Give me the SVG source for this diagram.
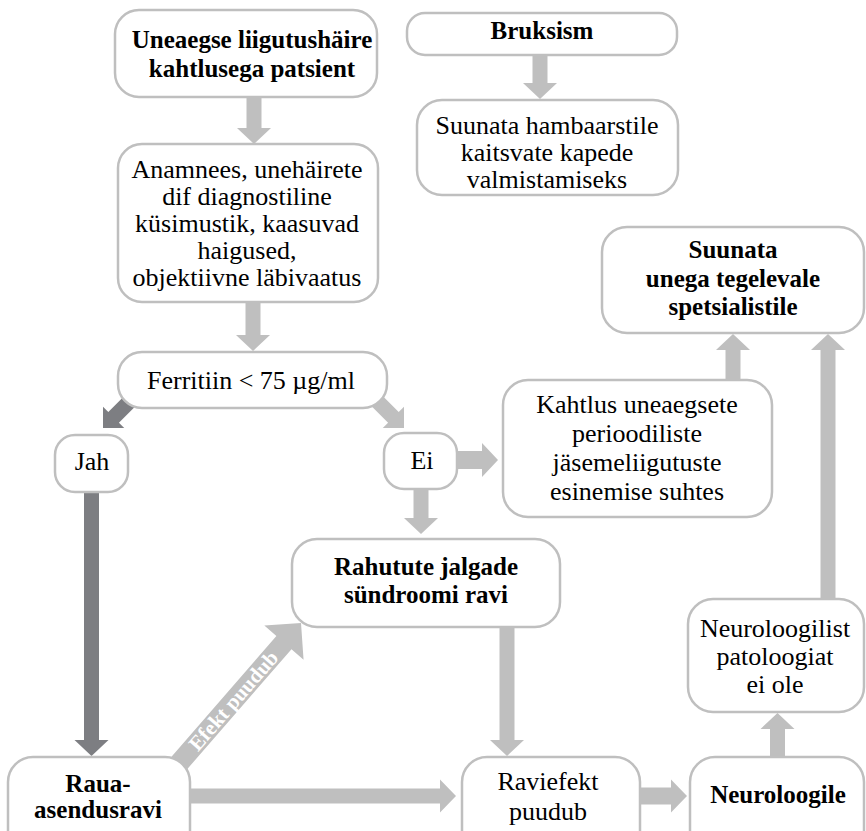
<svg xmlns="http://www.w3.org/2000/svg" width="866" height="831" viewBox="0 0 866 831">
<defs>
<style>
.box{fill:#fff;stroke:#bfbfbf;stroke-width:2.5}
text{font-family:'Liberation Serif','Times New Roman',Times,'DejaVu Serif',serif}
.t{font-size:26px;fill:#000;text-anchor:middle}
.b{font-size:25px;font-weight:bold;fill:#000;text-anchor:middle}
.ar{fill:#bfbfbf}
.dk{fill:#7d7e82}
.lbl{font-size:21px;font-weight:bold;fill:#fff;text-anchor:middle}
</style>
</defs>
<rect width="866" height="831" fill="#fff"/>
<g id="connectors">
<polygon class="ar" points="246.5,97 261.5,97 261.5,128 271,128 254,144 237,128 246.5,128"/>
<polygon class="ar" points="245.5,302 260.5,302 260.5,335 270,335 253,351 236,335 245.5,335"/>
<polygon class="ar" points="532.5,55 547.5,55 547.5,83 557,83 540,99 523,83 532.5,83"/>
<polygon class="dk" points="84,492 99,492 99,740 108.5,740 91.5,756 74.5,740 84,740"/>
<polygon class="ar" points="413.5,489 428.5,489 428.5,518 438,518 421,534 404,518 413.5,518"/>
<polygon class="ar" points="499.5,627 514.5,627 514.5,740 524,740 507,756 490,740 499.5,740"/>
<polygon class="ar" points="725.5,380 740.5,380 740.5,350 750,350 733,334 716,350 725.5,350"/>
<polygon class="ar" points="820.5,599 835.5,599 835.5,350 845,350 828,334 811,350 820.5,350"/>
<polygon class="ar" points="770,757 785,757 785,729 794.5,729 777.5,713 760.5,729 770,729"/>
<polygon class="ar" points="457,451 482,451 482,443 498,460 482,477 482,469 457,469"/>
<polygon class="ar" points="190,788.5 440,788.5 440,779.5 456,796 440,812.5 440,803.5 190,803.5"/>
<polygon class="ar" points="640,787.5 671,787.5 671,779.5 687,796 671,812.5 671,804.5 640,804.5"/>
<polygon class="dk" transform="translate(103,428) rotate(135)" points="-50,-7.5 -15,-7.5 -15,-15 0,0 -15,15 -15,7.5 -50,7.5"/>
<polygon class="ar" transform="translate(404,428) rotate(45)" points="-50,-7.5 -15,-7.5 -15,-15 0,0 -15,15 -15,7.5 -50,7.5"/>
<g transform="translate(301,623) rotate(-49)">
<polygon class="ar" points="-205,-10 -26,-10 -26,-26 0,0 -26,26 -26,10 -205,10"/>
<text class="lbl" x="-103" y="7">Efekt puudub</text>
</g>
</g>
<g id="n1"><rect class="box" x="115" y="10" width="262" height="87" rx="24"/>
<text class="b" x="252" y="48">Uneaegse liigutushäire</text><text class="b" x="252" y="77">kahtlusega patsient</text></g>
<g id="n2"><rect class="box" x="118" y="144" width="260" height="158" rx="24"/>
<text class="t" x="247" y="178">Anamnees, unehäirete</text>
<text class="t" x="247" y="205">dif diagnostiline</text>
<text class="t" x="247" y="232">küsimustik, kaasuvad</text>
<text class="t" x="247" y="259">haigused,</text>
<text class="t" x="247" y="286">objektiivne läbivaatus</text></g>
<g id="n3"><rect class="box" x="118" y="352" width="269" height="56" rx="24"/>
<text class="t" x="251" y="389">Ferritiin &lt; 75 µg/ml</text></g>
<g id="jah"><rect class="box" x="55" y="435" width="73" height="57" rx="20"/>
<text class="t" x="92" y="470">Jah</text></g>
<g id="ei"><rect class="box" x="384" y="433" width="73" height="56" rx="20"/>
<text class="t" x="422" y="469">Ei</text></g>
<g id="kahtlus"><rect class="box" x="503" y="380" width="269" height="137" rx="25"/>
<text class="t" x="637" y="413">Kahtlus uneaegsete</text>
<text class="t" x="637" y="442">perioodiliste</text>
<text class="t" x="637" y="471">jäsemeliigutuste</text>
<text class="t" x="637" y="500">esinemise suhtes</text></g>
<g id="suunata-unega"><rect class="box" x="602" y="227" width="262" height="106" rx="25"/>
<text class="b" x="733" y="258">Suunata</text>
<text class="b" x="733" y="287">unega tegelevale</text>
<text class="b" x="733" y="315">spetsialistile</text></g>
<g id="bruksism"><rect class="box" x="407" y="13" width="270" height="42" rx="18"/>
<text class="b" x="542" y="39">Bruksism</text></g>
<g id="hambaarst"><rect class="box" x="417" y="100" width="261" height="95" rx="25"/>
<text class="t" x="547" y="134">Suunata hambaarstile</text>
<text class="t" x="547" y="161">kaitsvate kapede</text>
<text class="t" x="547" y="188">valmistamiseks</text></g>
<g id="rahutute"><rect class="box" x="292" y="539" width="268" height="88" rx="25"/>
<text class="b" x="426" y="575">Rahutute jalgade</text>
<text class="b" x="426" y="603">sündroomi ravi</text></g>
<g id="neuroloogilist"><rect class="box" x="688" y="599" width="176" height="113" rx="25"/>
<text class="t" x="775" y="637">Neuroloogilist</text>
<text class="t" x="775" y="665">patoloogiat</text>
<text class="t" x="775" y="693">ei ole</text></g>
<g id="raua"><rect class="box" x="8" y="757" width="182" height="100" rx="25"/>
<text class="b" x="98" y="792">Raua-</text>
<text class="b" x="98" y="818">asendusravi</text></g>
<g id="raviefekt"><rect class="box" x="462" y="757" width="178" height="100" rx="25"/>
<text class="t" x="548" y="790">Raviefekt</text>
<text class="t" x="548" y="820">puudub</text></g>
<g id="neuroloogile"><rect class="box" x="690" y="757" width="174" height="100" rx="25"/>
<text class="b" x="778" y="803">Neuroloogile</text></g>
</svg>
